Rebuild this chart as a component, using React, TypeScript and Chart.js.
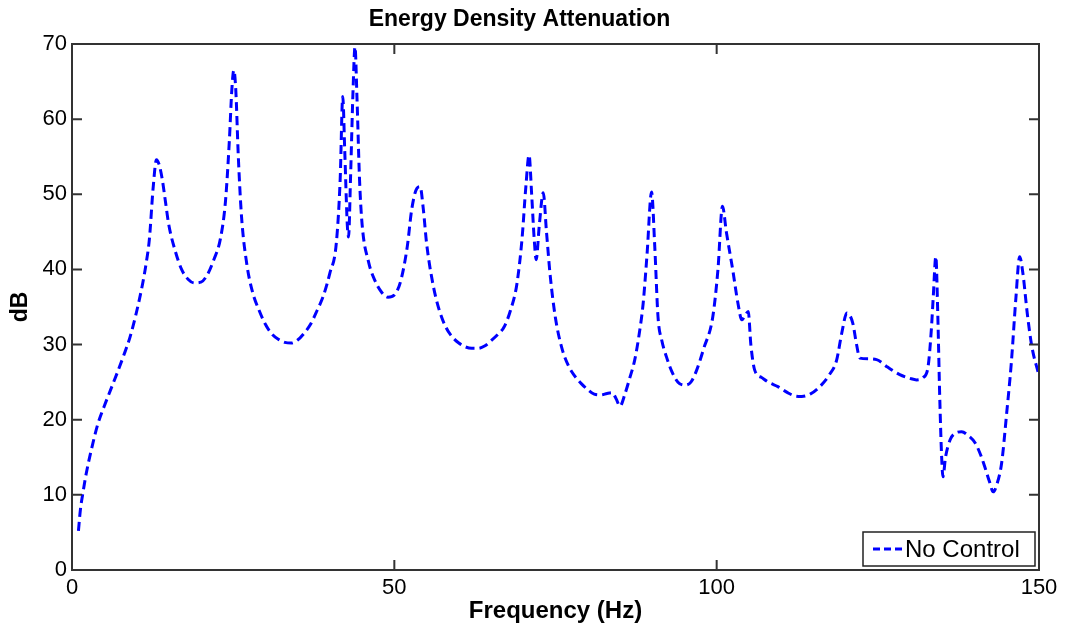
import React, { useEffect, useRef } from "react";
import { Chart, registerables } from "chart.js";

Chart.register(...registerables);

const chartTitle = "Energy Density Attenuation";
const xAxisTitle = "Frequency (Hz)";
const yAxisTitle = "dB";
const seriesLabel = "No Control";
const xTickValues = [0, 50, 100, 150];
const yTickValues = [0, 10, 20, 30, 40, 50, 60, 70];

const freqHz = [
  1, 1.3, 1.7, 2.2, 3, 4, 5, 6, 7, 8, 9, 10, 11, 11.5, 12, 12.6, 13.1, 13.5, 14, 14.5, 15, 16, 17, 18, 19, 20, 21, 22, 23,
  23.8, 24.4, 24.8, 25.1, 25.4, 25.8, 26.3, 27.1, 28, 29, 30, 31, 32, 33, 34, 35, 36, 37, 38, 39, 40, 41,
  41.6, 42, 42.3, 42.7, 42.9, 43.2, 43.6, 43.9, 44.2, 44.6, 45, 46, 47, 48, 49, 50, 51, 52, 52.7, 53.5, 54,
  54.5, 55, 56, 57, 58, 59, 60, 61, 62, 63, 64, 65, 66, 67, 68, 69, 69.8, 70.4, 70.9, 71.3, 71.7, 72, 72.5,
  73.1, 73.6, 74.2, 75, 76, 77, 78, 79, 80, 81, 82, 83, 83.8, 84.4, 85, 85.8, 86.5, 87.3, 88, 88.6, 89.2,
  89.9, 90.4, 90.9, 91.5, 92.2, 93, 94, 95, 96, 96.9, 98, 99.4, 100.2, 100.9, 101.5, 102.5, 103.3, 103.9,
  104.5, 104.9, 105.3, 105.9, 107, 108, 109.5, 111, 112, 113.2, 114.5, 116, 117.5, 118.6, 119.4, 120.2,
  121.1, 121.7, 122.2, 123.5, 124.8, 126.5, 128.4, 130, 131, 132, 132.8, 133.3, 133.6, 134, 134.3, 134.6,
  134.9, 135.1, 135.5, 136.2, 137, 138, 139, 140.1, 141, 141.6, 142.3, 142.9, 143.5, 144.2, 145, 145.7,
  146.4, 147, 147.5, 148.2, 148.9, 149.9,
];

const noControlDb = [
  5.2, 8, 10.3, 12.8, 16, 19.4, 21.8, 24, 26.2, 28.5, 31, 34.3, 38.3, 40.8, 44, 51, 54.6, 54, 52, 49, 46, 42.5, 40, 38.7, 38.2,
  38.3, 39.3, 41.3, 44, 49, 57, 64, 66.5, 64, 55, 47, 40.8, 37, 34.6, 32.7, 31.4, 30.7, 30.3, 30.2, 30.6, 31.5, 32.7,
  34.5, 36.5, 39.5, 43.5, 52, 63, 56, 46, 44.3, 52, 64, 69.6, 63, 52, 46, 41, 38.5, 37, 36.3, 36.6, 38.5, 43,
  48, 50.8, 51, 48, 43.5, 38, 34.5, 32.3, 31, 30.2, 29.7, 29.5, 29.5, 29.8, 30.5, 31.3, 32.3, 34.5, 38, 44, 51,
  55.2, 50, 44, 41.3, 46, 50.2, 45, 39, 33.5, 29.5, 27.2, 25.8, 24.8, 24, 23.4, 23.3, 23.5, 23.6, 22.8, 21.8,
  23.5, 25.5, 28, 31.5, 35.5, 42, 50.3, 43, 33.7, 30.5, 28.4, 26.5, 25, 24.6, 25, 26.6, 29.5, 33.7, 40, 48.4,
  45, 39.9, 35.5, 33.3, 34, 34.4, 30, 26.6, 25.6, 25, 24.4, 23.6, 23.2, 23.1, 23.4, 24.4, 26, 27.9, 31.5, 34.2,
  32.9, 30, 28.2, 28.1, 28, 27, 26, 25.5, 25.3, 25.6, 27.1, 32, 36.4, 41.7, 34, 23.1, 15, 12.4, 15, 17.3, 18.2,
  18.4, 17.9, 16.9, 15.2, 13.7, 11.8, 10.4, 11.5, 14.2, 21, 27.5, 36, 41.7, 39.5, 34, 29.7, 26.2,
];

const FONT = "'Liberation Sans', Arial, Helvetica, sans-serif";

const boxPlugin = {
  id: "matlabBox",
  afterDatasetsDraw(chart: any) {
    const { ctx, chartArea } = chart;
    const { left, right, top, bottom } = chartArea;
    const xs = chart.scales.x;
    const ys = chart.scales.y;
    const tick = 10;
    ctx.save();
    ctx.strokeStyle = "#333333";
    ctx.lineWidth = 2;
    ctx.strokeRect(left, top, right - left, bottom - top);
    ctx.beginPath();
    xs.ticks.forEach((t: any) => {
      const px = xs.getPixelForValue(t.value);
      ctx.moveTo(px, bottom);
      ctx.lineTo(px, bottom - tick);
      ctx.moveTo(px, top);
      ctx.lineTo(px, top + tick);
    });
    ys.ticks.forEach((t: any) => {
      const py = ys.getPixelForValue(t.value);
      ctx.moveTo(left, py);
      ctx.lineTo(left + tick, py);
      ctx.moveTo(right, py);
      ctx.lineTo(right - tick, py);
    });
    ctx.stroke();

    // legend box in the lower right corner
    const ds = chart.data.datasets[0];
    const bw = 172;
    const bh = 34;
    const bx = right - 4 - bw;
    const by = bottom - 4 - bh;
    ctx.fillStyle = "#ffffff";
    ctx.fillRect(bx, by, bw, bh);
    ctx.strokeStyle = "#222222";
    ctx.lineWidth = 1.5;
    ctx.strokeRect(bx, by, bw, bh);
    ctx.beginPath();
    ctx.strokeStyle = ds.borderColor;
    ctx.lineWidth = 3;
    ctx.setLineDash([7, 4]);
    ctx.moveTo(bx + 10, by + bh / 2);
    ctx.lineTo(bx + 40, by + bh / 2);
    ctx.stroke();
    ctx.setLineDash([]);
    ctx.fillStyle = "#000000";
    ctx.font = `24px ${FONT}`;
    ctx.textBaseline = "middle";
    ctx.textAlign = "left";
    ctx.fillText(ds.label, bx + 42, by + bh / 2 + 1);
    ctx.restore();
  },
};

export default function App() {
  const ref = useRef<HTMLCanvasElement | null>(null);
  useEffect(() => {
    if (!ref.current) return;
    const points = freqHz.map((f, i) => ({ x: f, y: noControlDb[i] }));
    const chart = new Chart(ref.current, {
      type: "line",
      data: {
        datasets: [
          {
            label: seriesLabel,
            data: points,
            borderColor: "#0000ff",
            borderWidth: 3,
            borderDash: [9, 5],
            pointRadius: 0,
            fill: false,
            cubicInterpolationMode: "monotone",
          },
        ],
      },
      options: {
        responsive: false,
        animation: false,
        layout: { padding: { left: 0, right: 28, top: 0, bottom: 0 } },
        plugins: {
          legend: { display: false },
          tooltip: { enabled: false },
          title: {
            display: true,
            text: chartTitle,
            color: "#000000",
            font: { family: FONT, size: 23, weight: "bold" },
            padding: { top: 6, bottom: 10.4 },
          },
        },
        scales: {
          x: {
            type: "linear",
            min: 0,
            max: 150,
            afterBuildTicks: (scale: any) => {
              scale.ticks = xTickValues.map((v) => ({ value: v }));
            },
            afterFit: (scale: any) => {
              scale.height = 60;
            },
            grid: { display: false, drawTicks: false },
            border: { display: false },
            ticks: { color: "#000000", padding: 5, font: { family: FONT, size: 22 }, maxRotation: 0 },
            title: {
              display: true,
              text: xAxisTitle,
              color: "#000000",
              font: { family: FONT, size: 24, weight: "bold" },
              padding: { top: 0, bottom: 4 },
            },
          },
          y: {
            type: "linear",
            min: 0,
            max: 70,
            afterBuildTicks: (scale: any) => {
              scale.ticks = yTickValues.map((v) => ({ value: v }));
            },
            afterFit: (scale: any) => {
              scale.width = 72;
            },
            grid: { display: false, drawTicks: false },
            border: { display: false },
            ticks: { color: "#000000", padding: 5, font: { family: FONT, size: 22 } },
            title: {
              display: true,
              text: yAxisTitle,
              color: "#000000",
              font: { family: FONT, size: 23, weight: "bold" },
              padding: { top: 7, bottom: 0 },
            },
          },
        },
      },
      plugins: [boxPlugin],
    });
    return () => chart.destroy();
  }, []);
  return (
    <div style={{ position: "absolute", left: 0, top: 0, width: 1067, height: 630, background: "#fff" }}>
      <canvas ref={ref} width={1067} height={630} style={{ display: "block" }} />
    </div>
  );
}
